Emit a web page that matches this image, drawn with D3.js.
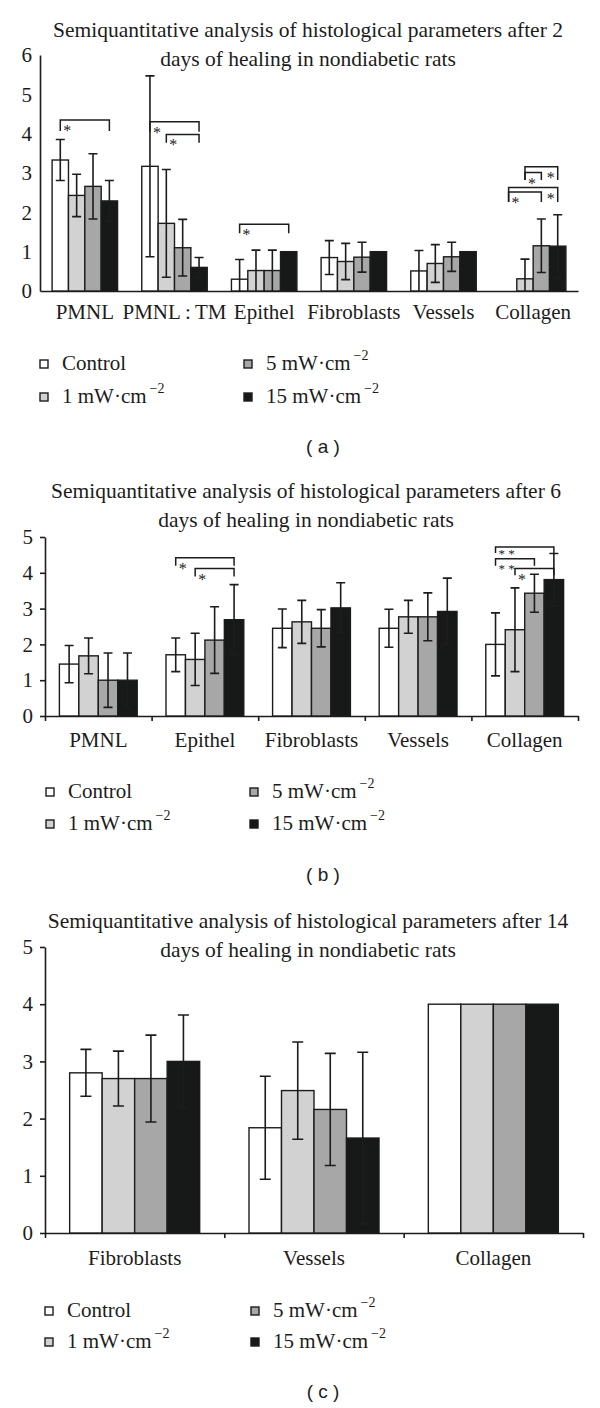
<!DOCTYPE html>
<html><head><meta charset="utf-8">
<script src="https://cdn.jsdelivr.net/npm/d3@7"></script>
<style>body{margin:0;background:#fff}svg{display:block}</style>
</head><body>
<script>
// ---------- shared series ----------
const seriesNames = ["Control", "1 mW·cm", "5 mW·cm", "15 mW·cm"];
const seriesSup = ["", "−2", "−2", "−2"];
const seriesColors = ["#ffffff", "#d2d2d2", "#a7a7a7", "#171918"];

// ---------- panel (a): 2 days ----------
const titleA = ["Semiquantitative analysis of histological parameters after 2", "days of healing in nondiabetic rats"];
const catsA = ["PMNL", "PMNL\u2009:\u2009TM", "Epithel", "Fibroblasts", "Vessels", "Collagen"];
const ticksA = [0, 1, 2, 3, 4, 5, 6];
const meansA = [
  [3.33, 3.17, 0.30, 0.85, 0.51, 0.00],
  [2.43, 1.72, 0.52, 0.75, 0.70, 0.31],
  [2.66, 1.10, 0.52, 0.86, 0.87, 1.15],
  [2.29, 0.60, 1.00, 1.00, 1.00, 1.14]
];
const sdA = [
  [0.52, 2.30, 0.50, 0.43, 0.52, 0.00],
  [0.54, 1.37, 0.52, 0.46, 0.48, 0.50],
  [0.83, 0.72, 0.52, 0.38, 0.37, 0.68],
  [0.52, 0.25, 0.00, 0.00, 0.00, 0.80]
];
// significance brackets: category, from-series, to-series, line level, leg bottom, stars, star side
const bracketsA = [
  {cat: "PMNL", from: 0, to: 3, level: 4.35, base: 4.07, star: "*", side: "left"},
  {cat: "PMNL\u2009:\u2009TM", from: 0, to: 3, level: 4.30, base: 4.05, star: "*", side: "left"},
  {cat: "PMNL\u2009:\u2009TM", from: 1, to: 3, level: 3.98, base: 3.77, star: "*", side: "left"},
  {cat: "Epithel", from: 0, to: 3, level: 1.70, base: 1.47, star: "*", side: "left"},
  {cat: "Collagen", from: 1, to: 3, level: 3.16, base: 2.82, star: "*", side: "right"},
  {cat: "Collagen", from: 1, to: 2, level: 3.01, base: 2.82, star: "*", side: "left"},
  {cat: "Collagen", from: 0, to: 3, level: 2.63, base: 2.26, star: "*", side: "right"},
  {cat: "Collagen", from: 0, to: 2, level: 2.52, base: 2.26, star: "*", side: "left"}
];

// ---------- panel (b): 6 days ----------
const titleB = ["Semiquantitative analysis of histological parameters after 6", "days of healing in nondiabetic rats"];
const catsB = ["PMNL", "Epithel", "Fibroblasts", "Vessels", "Collagen"];
const ticksB = [0, 1, 2, 3, 4, 5];
const meansB = [
  [1.45, 1.71, 2.45, 2.45, 2.00],
  [1.68, 1.58, 2.63, 2.77, 2.41],
  [1.00, 2.12, 2.45, 2.77, 3.43],
  [1.00, 2.69, 3.02, 2.92, 3.81]
];
const sdB = [
  [0.52, 0.47, 0.54, 0.53, 0.88],
  [0.50, 0.73, 0.60, 0.46, 1.17],
  [0.76, 0.93, 0.52, 0.67, 0.53],
  [0.76, 0.98, 0.70, 0.93, 0.73]
];
const bracketsB = [
  {cat: "Epithel", from: 0, to: 3, level: 4.42, base: 4.20, star: "*", side: "left"},
  {cat: "Epithel", from: 1, to: 3, level: 4.12, base: 3.90, star: "*", side: "left"},
  {cat: "Collagen", from: 0, to: 3, level: 4.72, base: 4.55, star: "* *", side: "left"},
  {cat: "Collagen", from: 0, to: 2, level: 4.39, base: 4.20, star: "* *", side: "left"},
  {cat: "Collagen", from: 1, to: 3, level: 4.12, base: 3.93, star: "*", side: "left"}
];

// ---------- panel (c): 14 days ----------
const titleC = ["Semiquantitative analysis of histological parameters after 14", "days of healing in nondiabetic rats"];
const catsC = ["Fibroblasts", "Vessels", "Collagen"];
const ticksC = [0, 1, 2, 3, 4, 5];
const meansC = [
  [2.80, 1.84, 4.00],
  [2.70, 2.49, 4.00],
  [2.70, 2.16, 4.00],
  [3.00, 1.66, 4.00]
];
const sdC = [
  [0.41, 0.90, 0.00],
  [0.48, 0.85, 0.00],
  [0.76, 0.98, 0.00],
  [0.81, 1.50, 0.00]
];
const bracketsC = [];

// ---------- drawing ----------
const W = 600, H = 1408;
const SERIF = "'Liberation Serif', 'Times New Roman', serif";
const SANS = "'Liberation Sans', Arial, sans-serif";
const INK = "#1c1c1c";

const svg = d3.select("body").append("svg").attr("width", W).attr("height", H)
  .style("background", "#fff");

function drawPanel(p) {
  const g = svg.append("g");
  const y = d3.scaleLinear().domain([0, p.yMax]).range([p.y0, p.yTop]);
  const x0 = d3.scaleBand().domain(p.cats).range([p.xL, p.xR])
    .paddingInner(p.pad).paddingOuter(p.pad / 2);
  const x1 = d3.scaleBand().domain(d3.range(seriesNames.length)).range([0, x0.bandwidth()]);

  // title
  g.append("g").selectAll("text").data(p.title).join("text")
    .attr("x", p.titleX).attr("y", (d, i) => p.titleY + i * 29)
    .attr("text-anchor", "middle")
    .style("font-family", SERIF).style("font-size", "21.5px").attr("fill", INK)
    .text(d => d);

  // y axis
  const ya = g.append("g").attr("transform", `translate(${p.xL},0)`)
    .call(d3.axisLeft(y).tickValues(p.ticks).tickFormat(d3.format("d"))
      .tickSize(p.yTick).tickSizeOuter(0).tickPadding(p.yPad));
  ya.attr("font-family", null).attr("font-size", null);
  ya.selectAll("path,line").attr("stroke", INK).attr("stroke-width", 1.6);
  ya.selectAll("text").style("font-family", SERIF).style("font-size", "21px").attr("fill", INK);

  // x axis: boundaries scale for ticks, band scale for labels
  const xb = d3.scaleLinear().domain([0, p.cats.length]).range([p.xL, p.xR]);
  const xa = g.append("g").attr("transform", `translate(0,${p.y0})`)
    .call(d3.axisBottom(xb).tickValues(d3.range(p.cats.length + 1)).tickFormat("")
      .tickSize(p.xTick).tickSizeOuter(0));
  xa.selectAll("path,line").attr("stroke", INK).attr("stroke-width", 1.6);
  const xl = g.append("g").attr("transform", `translate(0,${p.y0})`)
    .call(d3.axisBottom(x0).tickSize(0).tickPadding(0));
  xl.attr("font-family", null).attr("font-size", null);
  xl.select(".domain").remove();
  xl.selectAll("text").attr("y", p.labelDy).attr("dy", 0)
    .style("font-family", SERIF).style("font-size", "21px").attr("fill", INK);

  // bars
  const cells = [];
  p.cats.forEach((c, ci) => seriesNames.forEach((s, si) => {
    cells.push({c, si, m: p.means[si][ci], sd: p.sd[si][ci]});
  }));
  g.append("g").selectAll("rect").data(cells.filter(d => d.m > 0)).join("rect")
    .attr("x", d => x0(d.c) + x1(d.si))
    .attr("y", d => y(d.m))
    .attr("width", x1.bandwidth())
    .attr("height", d => y(0) - y(d.m))
    .attr("fill", d => seriesColors[d.si])
    .attr("stroke", INK).attr("stroke-width", 1.4);

  // error bars
  const eb = g.append("g").attr("stroke", INK).attr("stroke-width", 1.6).attr("fill", "none");
  cells.filter(d => d.sd > 0).forEach(d => {
    const cx = x0(d.c) + x1(d.si) + x1.bandwidth() / 2;
    const hi = d.m + d.sd, lo = d.m - d.sd;
    const h = p.cap;
    let path = `M${cx - h},${y(hi)}H${cx + h}M${cx},${y(hi)}V${y(Math.max(lo, 0))}`;
    if (lo > 0) path += `M${cx - h},${y(lo)}H${cx + h}`;
    eb.append("path").attr("d", path);
  });

  // significance brackets
  const bg = g.append("g");
  const starGroups = new Map();
  p.brackets.forEach(b => {
    const xa_ = x0(b.cat) + x1(b.from) + x1.bandwidth() / 2;
    const xb_ = x0(b.cat) + x1(b.to) + x1.bandwidth() / 2;
    bg.append("path")
      .attr("d", `M${xa_},${y(b.base)}V${y(b.level)}H${xb_}V${y(b.base)}`)
      .attr("fill", "none").attr("stroke", INK).attr("stroke-width", 1.5);
    const sx = b.side === "left" ? xa_ + 3 : xb_ - 3;
    const key = b.cat + "|" + b.side + "|" + Math.round(sx);
    if (!starGroups.has(key)) starGroups.set(key, {x: sx, side: b.side, items: []});
    starGroups.get(key).items.push({line: y(b.level), t: b.star});
  });
  // stars stacked in the same column: tighter spacing when the bracket lines are close
  starGroups.forEach(sg => {
    sg.items.sort((a, b) => a.line - b.line);
    let minGap = Infinity;
    for (let i = 1; i < sg.items.length; i++) minGap = Math.min(minGap, sg.items[i].line - sg.items[i - 1].line);
    const tight = minGap < 16;
    sg.items.forEach((it, i) => {
      bg.append("text")
        .attr("x", sg.x)
        .attr("y", it.line + (tight ? (i === 0 ? 11 : 14) : 16))
        .attr("text-anchor", sg.side === "left" ? "start" : "end")
        .style("font-family", SERIF).style("font-size", tight ? "13px" : "16px").attr("fill", INK)
        .attr("xml:space", "preserve")
        .text(it.t);
    });
  });

  // legend
  const lg = g.append("g");
  seriesNames.forEach((s, i) => {
    const col = i < 2 ? 0 : 1;          // Control,1 in col 0 ; 5,15 in col 1
    const row = i % 2;
    const lx = p.legX[col], ly = p.legY[row];
    lg.append("rect").attr("x", lx).attr("y", ly - 10).attr("width", 8).attr("height", 8)
      .attr("fill", seriesColors[i]).attr("stroke", INK).attr("stroke-width", 1.4);
    const t = lg.append("text").attr("x", lx + 22).attr("y", ly)
      .style("font-family", SERIF).style("font-size", "21px").attr("fill", INK);
    t.append("tspan").text(s);
    if (seriesSup[i]) {
      t.append("tspan").attr("dx", 3).attr("dy", -10).style("font-size", "14px").text(seriesSup[i]);
    }
  });

  // panel label
  g.append("text").attr("x", 323).attr("y", p.tagY).attr("text-anchor", "middle")
    .style("font-family", SANS).style("font-size", "19px").attr("fill", INK)
    .attr("xml:space", "preserve").text(p.tag);
}

drawPanel({
  title: titleA, titleX: 308, titleY: 37,
  cats: catsA, means: meansA, sd: sdA, brackets: bracketsA, ticks: ticksA,
  yMax: 6, y0: 291, yTop: 55, xL: 40, xR: 578, pad: 0.27,
  yTick: 0, yPad: 8, xTick: 0, labelDy: 28, cap: 4.5,
  legX: [40, 244], legY: [370, 403], tag: "( a )", tagY: 453
});
drawPanel({
  title: titleB, titleX: 306, titleY: 498,
  cats: catsB, means: meansB, sd: sdB, brackets: bracketsB, ticks: ticksB,
  yMax: 5, y0: 716, yTop: 537, xL: 45, xR: 578, pad: 0.27,
  yTick: 5, yPad: 7, xTick: 5, labelDy: 31, cap: 4.5,
  legX: [46, 250], legY: [798, 830], tag: "( b )", tagY: 881
});
drawPanel({
  title: titleC, titleX: 308, titleY: 928,
  cats: catsC, means: meansC, sd: sdC, brackets: bracketsC, ticks: ticksC,
  yMax: 5, y0: 1233, yTop: 947, xL: 45, xR: 583, pad: 0.275,
  yTick: 5, yPad: 7, xTick: 5, labelDy: 32, cap: 5.5,
  legX: [45, 251], legY: [1317, 1348], tag: "( c )", tagY: 1398
});
</script>
</body></html>
